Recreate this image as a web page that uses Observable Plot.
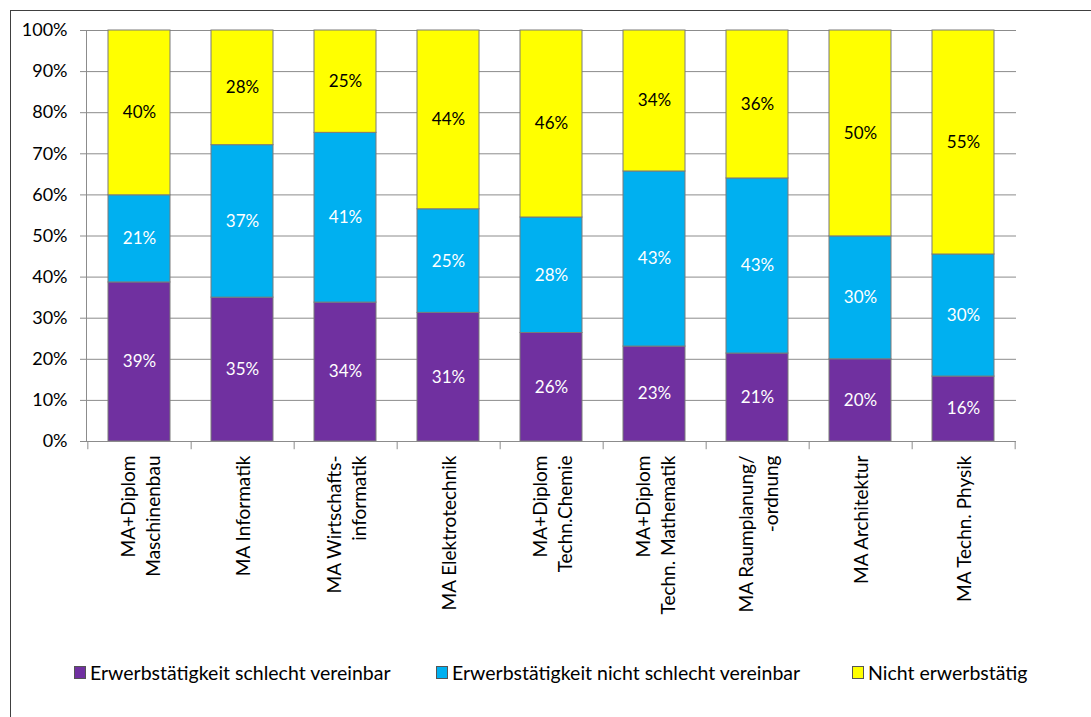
<!DOCTYPE html>
<html>
<head>
<meta charset="utf-8">
<script src="https://cdn.jsdelivr.net/npm/d3@7"></script>
<script src="https://cdn.jsdelivr.net/npm/@observablehq/plot@0.6"></script>
<style>
  html, body { margin: 0; padding: 0; background: #fff; }
  body { width: 1091px; height: 717px; position: relative; overflow: hidden; font-family: Lato, "Open Sans", sans-serif; }
  #frame { position: absolute; left: 10px; top: 10px; width: 1200px; height: 800px; border-left: 1px solid #404040; border-top: 1px solid #404040; }
  #chart { position: absolute; left: 0; top: 0; }
  #legend { position: absolute; left: 0; top: 640px; width: 1091px; height: 77px; }
  .item { position: absolute; top: 21px; font-size: 19.5px; color: #000; display: flex; align-items: center; white-space: nowrap; }
  .sw { width: 10px; height: 11px; margin-right: 4px; border: 1px solid #555; }
</style>
</head>
<body>
<div id="frame"></div>
<div id="chart"></div>
<div id="legend"></div>
<script>
const categories = [
  "MA+Diplom\nMaschinenbau",
  "MA Informatik",
  "MA Wirtschafts-\ninformatik",
  "MA Elektrotechnik",
  "MA+Diplom\nTechn.Chemie",
  "MA+Diplom\nTechn. Mathematik",
  "MA Raumplanung/\n-ordnung",
  "MA Architektur",
  "MA Techn. Physik"
];
const seriesNames = [
  "Erwerbstätigkeit schlecht vereinbar",
  "Erwerbstätigkeit nicht schlecht vereinbar",
  "Nicht erwerbstätig"
];
const seriesColors = ["#7030A0", "#00B0F0", "#FFFF00"];
const labelColors = ["#ffffff", "#ffffff", "#000000"];
const schlecht      = [38.7, 35.0, 33.8, 31.3, 26.4, 23.1, 21.4, 20.0, 15.8];
const nichtSchlecht = [21.2, 37.1, 41.3, 25.2, 28.1, 42.6, 42.6, 29.9, 29.7];
const nichtErwerb   = [40.1, 27.9, 24.9, 43.5, 45.5, 34.3, 36.0, 50.1, 54.5];
const yTicks = [0, 10, 20, 30, 40, 50, 60, 70, 80, 90, 100];

const seriesValues = [schlecht, nichtSchlecht, nichtErwerb];
const data = [];
categories.forEach((c, i) => {
  seriesValues.forEach((vals, s) => {
    data.push({cat: c, s, value: vals[i]});
  });
});

const W = 1091, H = 640;
const mL = 86, mR = 75, mT = 30, mB = 199;
const step = (W - mL - mR) / categories.length;

const plot = Plot.plot({
  width: W,
  height: H,
  marginLeft: mL,
  marginRight: mR,
  marginTop: mT,
  marginBottom: mB,
  style: {fontFamily: "Lato, 'Open Sans', sans-serif", background: "transparent", overflow: "visible"},
  x: {domain: categories, paddingInner: 0.4, paddingOuter: 0.2, axis: null},
  y: {domain: [0, 100], axis: null},
  color: {type: "identity"},
  marks: [
    // gridlines
    Plot.ruleY(yTicks.filter(t => t > 0), {y: d => d, stroke: "#8c8c8c", strokeWidth: 1}),
    // bars
    Plot.barY(data, Plot.stackY({x: "cat", y: "value", fill: d => seriesColors[d.s], stroke: "#7a7a7a", strokeWidth: 1})),
    // value labels
    Plot.text(data, Plot.stackY({x: "cat", y: "value", text: d => Math.round(d.value) + "%", fill: d => labelColors[d.s], fontSize: 17})),
    // y axis
    Plot.axisY({ticks: yTicks, tickFormat: d => d + "%", tickSize: 6, tickPadding: 13, fontSize: 18, stroke: "#8c8c8c", color: "#000", label: null}),
    Plot.frame({anchor: "left", stroke: "#8c8c8c"}),
    // x axis line
    Plot.ruleY([0], {stroke: "#8c8c8c"}),
    // x ticks at band boundaries
    Plot.ruleX([categories[0]], {x: d => d, dx: -step / 2, y1: 0, y2: -2, stroke: "#8c8c8c"}),
    Plot.ruleX(categories, {x: d => d, dx: step / 2, y1: 0, y2: -2, stroke: "#8c8c8c"}),
    // x labels
    Plot.text(categories, {x: d => d, y: 0, text: d => d, rotate: -90, textAnchor: "end", lineAnchor: "middle", dy: 14, fontSize: 19, lineHeight: 1.3, fill: "#000"})
  ]
});
document.getElementById("chart").appendChild(plot);

const legendX = [[74, 90], [436, 450], [852, 866]];
const legend = document.getElementById("legend");
seriesNames.forEach((name, i) => {
  const item = document.createElement("div");
  item.className = "item";
  item.style.left = legendX[i][0] + "px";
  const sw = document.createElement("span");
  sw.className = "sw";
  sw.style.background = seriesColors[i];
  item.appendChild(sw);
  const t = document.createElement("span");
  t.textContent = name;
  item.appendChild(t);
  legend.appendChild(item);
});
</script>
</body>
</html>
